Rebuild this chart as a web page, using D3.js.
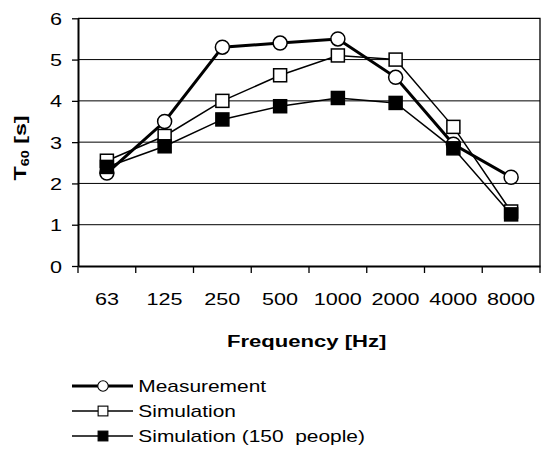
<!DOCTYPE html>
<html lang="en">
<head>
  <meta charset="UTF-8">
  <title>T60</title>
  <script src="https://d3js.org/d3.v7.min.js"></script>
  <style>
    body { margin: 0; background: #fff; }
    text { font-family: Arial, "Liberation Sans", sans-serif; fill: #000; white-space: pre; }
  </style>
</head>
<body>
<div id="chart"></div>
<script>
  // values
  var freqs = ["63", "125", "250", "500", "1000", "2000", "4000", "8000"]
  var measurement = [2.25, 3.5, 5.3, 5.4, 5.5, 4.57, 2.95, 2.15]
  var simulation = [2.55, 3.15, 4.0, 4.62, 5.1, 5.0, 3.37, 1.32]
  var simulation150 = [2.4, 2.9, 3.55, 3.87, 4.07, 3.95, 2.85, 1.25]
  var yTicks = [0, 1, 2, 3, 4, 5, 6]

  var W = 545, H = 451
  var pLeft = 78, pRight = 540, pTop = 18.3, pBottom = 266
  var fs = 17
  var sx = 1.27  // reference text is stretched sideways

  var svg = d3.select("#chart").append("svg")
    .attr("width", W).attr("height", H)

  var x = d3.scaleBand().domain(freqs).range([pLeft, pRight])
  var y = d3.scaleLinear().domain([0, 6]).range([pBottom, pTop])

  // grid
  svg.append("g").selectAll("line")
    .data(yTicks.filter(d => d > 0 && d < 6))
    .join("line")
    .attr("x1", pLeft).attr("x2", pRight)
    .attr("y1", d => y(d)).attr("y2", d => y(d))
    .attr("stroke", "#000").attr("stroke-width", 1)

  // frame top + right
  svg.append("path")
    .attr("d", "M" + pLeft + "," + y(6) + "H" + pRight + "V" + pBottom)
    .attr("fill", "none").attr("stroke", "#000").attr("stroke-width", 1.3)

  // y axis
  var yAxis = svg.append("g")
    .attr("transform", "translate(" + pLeft + ",0)")
    .call(d3.axisLeft(y).tickValues(yTicks).tickFormat(d3.format("d"))
      .tickSize(6).tickSizeOuter(0).tickPadding(0))
  yAxis.select(".domain").attr("stroke-width", 2)
  yAxis.selectAll(".tick line").attr("stroke-width", 1.3)
  yAxis.selectAll(".tick text")
    .attr("font-size", fs).attr("font-family", null)
    .attr("x", -16 / sx).attr("dy", "0.36em")
    .attr("transform", "scale(" + sx + ",1)")

  // x axis
  var xAxis = svg.append("g")
    .attr("transform", "translate(0," + pBottom + ")")
    .call(d3.axisBottom(x).tickSize(0).tickSizeOuter(0))
  xAxis.select(".domain").attr("stroke-width", 2)
  xAxis.selectAll(".tick text")
    .attr("font-size", fs).attr("font-family", null)
    .attr("y", 39).attr("dy", 0)
    .attr("transform", "scale(" + sx + ",1)")
  xAxis.selectAll(".bound")
    .data(freqs.map(f => x(f)).concat([x.range()[1]]))
    .join("line")
    .attr("class", "bound")
    .attr("x1", d => d).attr("x2", d => d)
    .attr("y1", 0).attr("y2", 7)
    .attr("stroke", "#000").attr("stroke-width", 1.3)

  var cx = f => x(f) + x.bandwidth() / 2

  var series = [
    { name: "Measurement", values: measurement, shape: "circle", fill: "#fff", lw: 3 },
    { name: "Simulation", values: simulation, shape: "square", fill: "#fff", lw: 1.5 },
    { name: "Simulation (150  people)", values: simulation150, shape: "square", fill: "#000", lw: 1.5 }
  ]

  var line = d3.line().x((d, i) => cx(freqs[i])).y(d => y(d))

  function marker(g, shape, fill) {
    if (shape == "circle") {
      g.append("circle").attr("r", 7)
        .attr("fill", fill).attr("stroke", "#000").attr("stroke-width", 1.5)
    } else {
      g.append("rect").attr("x", -6.5).attr("y", -6.5).attr("width", 13).attr("height", 13)
        .attr("fill", fill).attr("stroke", "#000").attr("stroke-width", 1.5)
    }
  }

  series.forEach(s => {
    svg.append("path")
      .datum(s.values)
      .attr("d", line)
      .attr("fill", "none").attr("stroke", "#000").attr("stroke-width", s.lw)
  })
  series.forEach(s => {
    s.values.forEach((v, i) => {
      var g = svg.append("g").attr("transform", "translate(" + cx(freqs[i]) + "," + y(v) + ")")
      marker(g, s.shape, s.fill)
    })
  })

  // axis titles
  var yt = svg.append("text")
    .attr("transform", "translate(26,148) rotate(-90) scale(1.45,1)")
    .attr("text-anchor", "middle")
    .attr("font-size", 16).attr("font-weight", "bold")
  yt.append("tspan").text("T")
  yt.append("tspan").attr("font-size", 10).attr("dy", 3).text("60")
  yt.append("tspan").attr("dy", -3).text(" [s]")

  svg.append("text")
    .attr("transform", "translate(306.7,346.7) scale(1.3,1)")
    .attr("text-anchor", "middle")
    .attr("font-size", 17).attr("font-weight", "bold")
    .text("Frequency [Hz]")

  // legend
  var leg = svg.append("g")
  series.forEach((s, i) => {
    var ly = 386 + i * 25
    var g = leg.append("g").attr("transform", "translate(0," + ly + ")")
    g.append("line").attr("x1", 72).attr("x2", 133).attr("y1", 0).attr("y2", 0)
      .attr("stroke", "#000").attr("stroke-width", s.lw)
    var m = g.append("g").attr("transform", "translate(103,0) scale(0.75)")
    marker(m, s.shape, s.fill)
    g.append("text")
      .attr("transform", "translate(138.3,6) scale(1.23,1)")
      .attr("font-size", 17)
      .text(s.name)
  })
</script>
</body>
</html>
